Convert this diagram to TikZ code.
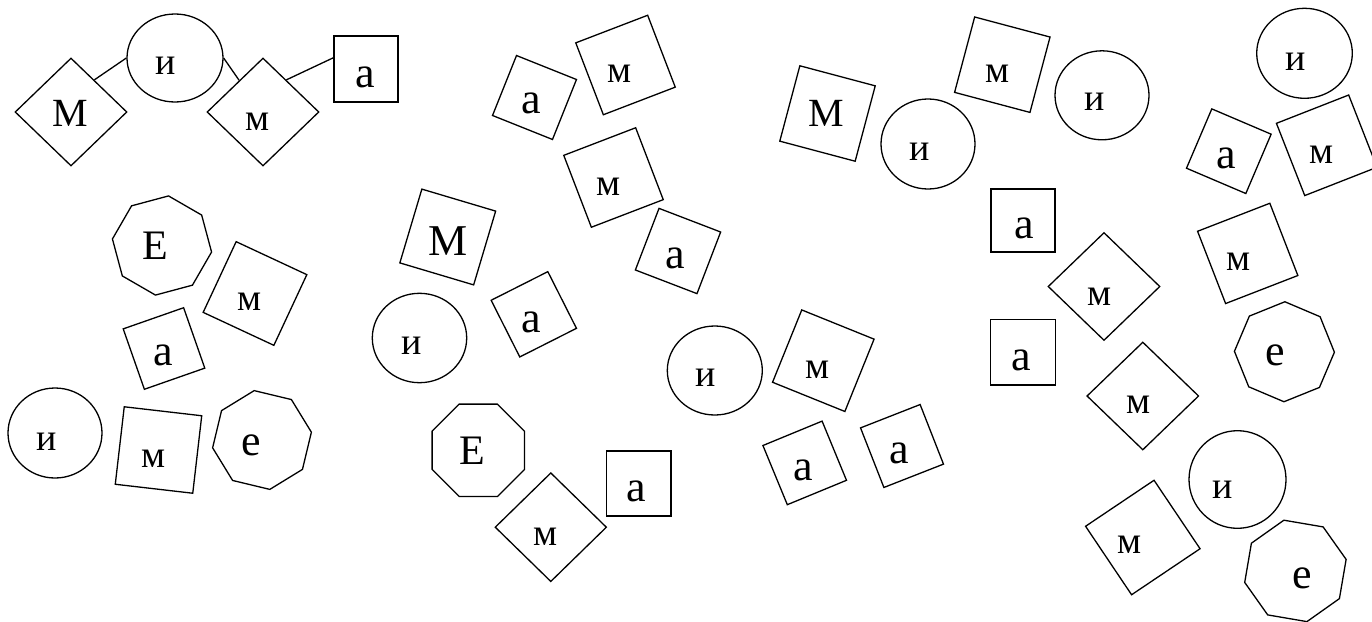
\documentclass[tikz,border=0pt]{standalone}
\usepackage{fontspec}
\setmainfont{Liberation Serif}
\usetikzlibrary{shapes.geometric}
\tikzset{
  every path/.style={line width=1.3pt},
  sq/.style={draw, regular polygon, regular polygon sides=4, inner sep=0pt, minimum size=#1*1.41421pt},
  rect/.style={draw, rectangle, inner sep=0pt},
  dia/.style={draw, diamond, inner sep=0pt},
  ell/.style={draw, ellipse, inner sep=0pt},
  oct/.style={draw, regular polygon, regular polygon sides=8, inner sep=0pt, minimum size=#1*2pt},
  lbl/.style={anchor=base, inner sep=0pt},
  fbigM/.style={lbl, font=\fontsize{40}{40}\selectfont},
  fm/.style={lbl, font=\fontsize{38}{38}\selectfont},
  fi/.style={lbl, font=\fontsize{38}{38}\selectfont},
  fa/.style={lbl, font=\fontsize{44}{44}\selectfont},
  fE/.style={lbl, font=\fontsize{42}{42}\selectfont},
  fe/.style={lbl, font=\fontsize{44}{44}\selectfont},
}
\begin{document}
\begin{tikzpicture}[x=1pt,y=-1pt]
\useasboundingbox (0,0) rectangle (1372,621);
% top-left chain
\node[dia, minimum width=112pt, minimum height=108pt] (n1) at (71,112) {};
\node[fbigM] (t1) at (70,126) {М};
\node[ell, minimum width=96pt, minimum height=88pt] (n2) at (175,58) {};
\node[fi] (t2) at (166,74) {и};
\node[dia, minimum width=112pt, minimum height=108pt] (n3) at (263,112) {};
\node[fm] (t3) at (258,130) {м};
\node[rect, minimum width=64pt, minimum height=66pt] (n4) at (366,69) {};
\node[fa] (t4) at (365,87) {а};
\draw (n1.54) -- (n2.west);
\draw (n2.east) -- (n3.127);
\draw (n3.54) -- (n4.161);
% left group
\node[oct=50, shape border rotate=15] (n5) at (162,245.5) {};
\node[fE] (t5) at (155,259) {Е};
\node[sq=78, shape border rotate=-25] (n6) at (255,293.5) {};
\node[fm] (t6) at (250,310) {м};
\node[sq=64, shape border rotate=19.3] (n7) at (164,348.5) {};
\node[fa] (t7) at (163,365) {а};
\node[ell, minimum width=94pt, minimum height=90pt] (n8) at (55,433) {};
\node[fi] (t8) at (47,450) {и};
\node[sq=78, shape border rotate=-6.6] (n9) at (158.5,450) {};
\node[fm] (t9) at (154,467) {м};
\node[oct=50, shape border rotate=31.5] (n10) at (262,440) {};
\node[fe] (t10) at (251,455) {е};
% middle group
\node[sq=64.6, shape border rotate=-21.8] (n11) at (534.5,97.5) {};
\node[fa] (t11) at (531,113) {а};
\node[sq=77, shape border rotate=21] (n12) at (625.5,65) {};
\node[fm] (t12) at (620,82) {м};
\node[sq=77, shape border rotate=21] (n13) at (613.5,177.5) {};
\node[fm] (t13) at (609,195) {м};
\node[sq=66, shape border rotate=-21] (n14) at (678,251) {};
\node[fa] (t14) at (675,268) {а};
\node[sq=77, shape border rotate=-16.6] (n15) at (447.75,237) {};
\node[fbigM, font=\fontsize{44}{44}\selectfont] (t15) at (448,255) {М};
\node[ell, minimum width=94.4pt, minimum height=89.4pt] (n16) at (419.5,338) {};
\node[fi] (t16) at (412,354) {и};
\node[sq=63.5, shape border rotate=26.8] (n17) at (533.8,314.3) {};
\node[fa] (t17) at (531.7,332) {а};
\node[oct=50] (n18) at (478.3,450.3) {};
\node[fE] (t18) at (472,464) {Е};
\node[dia, minimum width=111.6pt, minimum height=109pt] (n19) at (550.8,527.2) {};
\node[fm] (t19) at (546,545) {м};
\node[rect, minimum width=64.3pt, minimum height=65pt] (n20) at (638.8,483.5) {};
\node[fa] (t20) at (636,501) {а};
\node[ell, minimum width=95pt, minimum height=89pt] (n21) at (714.8,370.5) {};
\node[fi] (t21) at (706,386) {и};
\node[sq=78, shape border rotate=-22] (n38) at (823.3,360.7) {};
\node[fm] (t38) at (818,378) {м};
\node[sq=64, shape border rotate=22.4] (n39) at (804.7,462.9) {};
\node[fa] (t39) at (803,480) {а};
\node[sq=64, shape border rotate=21.4] (n40) at (902,446) {};
\node[fa] (t40) at (899.5,463) {а};
% right-middle group
\node[sq=78, shape border rotate=-14.9] (n22) at (827.5,113.5) {};
\node[fbigM] (t22) at (826,126.7) {М};
\node[ell, minimum width=94pt, minimum height=90pt] (n23) at (928,144) {};
\node[fi] (t23) at (920,160) {и};
\node[sq=78, shape border rotate=-14.9] (n24) at (1002.3,64.7) {};
\node[fm] (t24) at (998,82) {м};
\node[ell, minimum width=94pt, minimum height=89pt] (n25) at (1102,95.3) {};
\node[fi] (t25) at (1095,110) {и};
\node[rect, minimum width=64pt, minimum height=63pt] (n26) at (1023,220.5) {};
\node[fa] (t26) at (1024,238) {а};
\node[dia, minimum width=112pt, minimum height=108pt] (n27) at (1104,286.5) {};
\node[fm] (t27) at (1100,305) {м};
\node[rect, minimum width=65pt, minimum height=65.7pt] (n32) at (1023.2,352.2) {};
\node[fa] (t32) at (1021,370) {а};
\node[dia, minimum width=112pt, minimum height=108pt] (n34) at (1142.8,396) {};
\node[fm] (t34) at (1139,413) {м};
% right column
\node[ell, minimum width=95.6pt, minimum height=90pt] (n28) at (1304.5,53.3) {};
\node[fi] (t28) at (1296,70) {и};
\node[sq=64.5, shape border rotate=-23.1] (n29) at (1228.8,151.2) {};
\node[fa] (t29) at (1226,168) {а};
\node[sq=77.6, shape border rotate=21.4] (n30) at (1326.7,145.3) {};
\node[fm] (t30) at (1322,163) {м};
\node[sq=77.5, shape border rotate=21.2] (n31) at (1247.7,253.4) {};
\node[fm] (t31) at (1239,270) {м};
\node[oct=50, shape border rotate=22] (n33) at (1284.4,351.75) {};
\node[fe] (t33) at (1275,365) {е};
\node[ell, minimum width=97pt, minimum height=97.6pt] (n35) at (1237.5,479.5) {};
\node[fi] (t35) at (1223,498) {и};
\node[sq=82.5, shape border rotate=33.9] (n36) at (1142.8,537.5) {};
\node[fm] (t36) at (1130,553) {м};
\node[oct=52, shape border rotate=-9.7] (n37) at (1295.4,570.9) {};
\node[fe] (t37) at (1302,588) {е};
\end{tikzpicture}
\end{document}
